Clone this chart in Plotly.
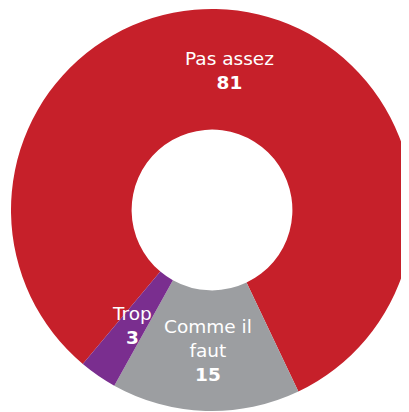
import math
import plotly.graph_objects as go

labels = ["Pas assez", "Comme il faut", "Trop"]
display_labels = ["Pas assez", "Comme il<br>faut", "Trop"]
values = [81, 15, 3]
colors = ["#C6202A", "#9C9EA1", "#7A2E8F"]

W, H = 409, 412
CX, CY, R = 204, 202, 201   # ring centre / radius in figure pixels
HOLE = 0.4
ROT = 220

fig = go.Figure(go.Pie(
    labels=labels,
    values=values,
    textinfo="none",
    hole=HOLE,
    sort=False,
    direction="clockwise",
    rotation=ROT,
    marker=dict(colors=colors, line=dict(width=0)),
    domain=dict(x=[(CX - R) / W, (CX + R) / W], y=[(H - CY - R) / H, (H - CY + R) / H]),
    showlegend=False,
    hoverinfo="label+value",
))

total = sum(values)
start = ROT
rmid = R * (1 + HOLE) / 2
for lab, v in zip(display_labels, values):
    span = v / total * 360
    mid = math.radians(start + span / 2)
    start += span
    px = CX + rmid * math.sin(mid)
    py = CY - rmid * math.cos(mid)
    fig.add_annotation(
        x=px / W, y=1 - py / H, xref="paper", yref="paper",
        text=f"{lab}<br><b>{v}</b>", showarrow=False,
        xanchor="center", yanchor="middle",
        font=dict(family="DejaVu Sans", size=18.5, color="white"),
    )

fig.update_layout(
    width=W, height=H,
    margin=dict(l=0, r=0, t=0, b=0),
    paper_bgcolor="white",
)
fig.write_html("out.html")
